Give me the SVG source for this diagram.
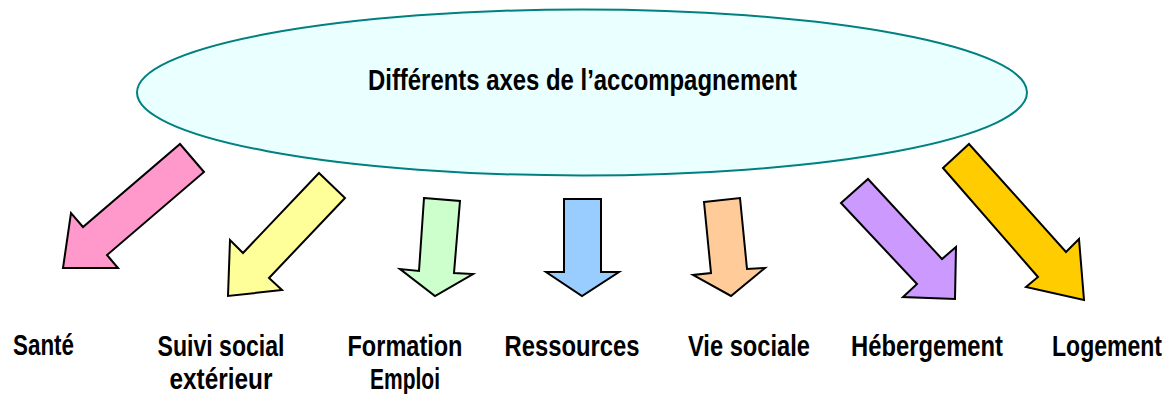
<svg xmlns="http://www.w3.org/2000/svg" width="1172" height="394" viewBox="0 0 1172 394">
<style>
  .lbl { font-family: "Liberation Sans Narrow", "Liberation Sans", Arial, sans-serif; font-weight: bold; font-size: 30px; fill: #000; text-anchor: middle; }
  .arr { stroke: #000; stroke-width: 2; stroke-linejoin: miter; }
</style>
<rect width="1172" height="394" fill="#fff"/>
<g id="center">
  <ellipse cx="582" cy="92.5" rx="445" ry="83" fill="#EAFFFF" stroke="#008080" stroke-width="2"/>
  <text class="lbl" x="582.5" y="90" textLength="429" lengthAdjust="spacingAndGlyphs">Différents axes de l’accompagnement</text>
</g>
<g id="connectors">
  <polygon class="arr" fill="#FF99CC" points="180,144 204,172 107,255 118,268 63,268 71,213 83,227"/>
  <polygon class="arr" fill="#FFFF99" points="319,173 345,198 269,278 282,290 228,296 230,240 243,253"/>
  <polygon class="arr" fill="#CCFFCC" points="424,198 460,201 454,273 473,274 435,296 400,269 419,271"/>
  <polygon class="arr" fill="#99CCFF" points="564,199 601,199 601,272 619,272 582,296 546,272 564,272"/>
  <polygon class="arr" fill="#FFCC99" points="704,202 740,198 747,269 765,268 731,296 693,275 711,273"/>
  <polygon class="arr" fill="#CC99FF" points="841,203 868,179 942,259 956,247 955,299 903,297 917,284"/>
  <polygon class="arr" fill="#FFCC00" points="943,168 969,144 1066,252 1079,239 1084,300 1026,287 1038,277"/>
</g>
<g id="sante"><text class="lbl" x="43.5" y="355" textLength="61" lengthAdjust="spacingAndGlyphs">Santé</text></g>
<g id="suivi">
  <text class="lbl" x="221" y="356" textLength="127" lengthAdjust="spacingAndGlyphs">Suivi social</text>
  <text class="lbl" x="221" y="389" textLength="103" lengthAdjust="spacingAndGlyphs">extérieur</text>
</g>
<g id="formation">
  <text class="lbl" x="405" y="356" textLength="115" lengthAdjust="spacingAndGlyphs">Formation</text>
  <text class="lbl" x="405" y="389" textLength="70" lengthAdjust="spacingAndGlyphs">Emploi</text>
</g>
<g id="ressources"><text class="lbl" x="572" y="356" textLength="135" lengthAdjust="spacingAndGlyphs">Ressources</text></g>
<g id="vie"><text class="lbl" x="749" y="356" textLength="122" lengthAdjust="spacingAndGlyphs">Vie sociale</text></g>
<g id="hebergement"><text class="lbl" x="927" y="356" textLength="152" lengthAdjust="spacingAndGlyphs">Hébergement</text></g>
<g id="logement"><text class="lbl" x="1107" y="356" textLength="110" lengthAdjust="spacingAndGlyphs">Logement</text></g>
</svg>
